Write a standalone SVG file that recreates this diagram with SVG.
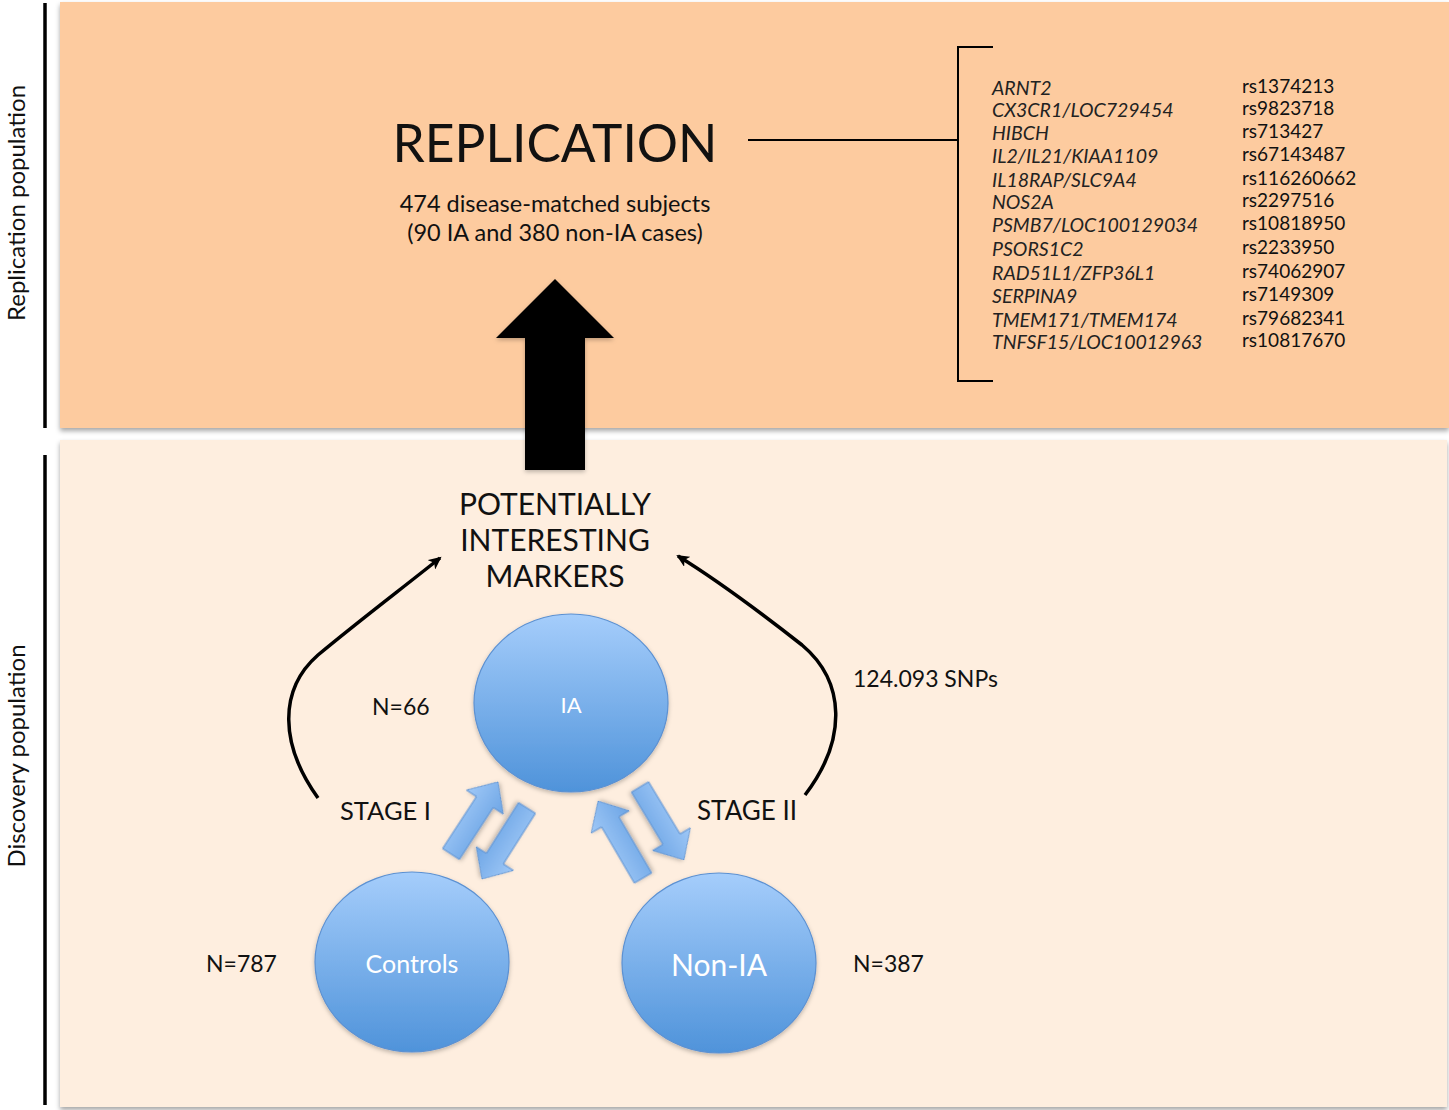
<svg xmlns="http://www.w3.org/2000/svg" width="1449" height="1110" viewBox="0 0 1449 1110">
<defs>
<style>
text{font-family:Lato,"Noto Sans","Liberation Sans",sans-serif;fill:#111}
.side{font-size:24px;text-anchor:middle}
.gene{font-size:19.5px;font-style:italic;fill:#222}
.rs{font-size:19px;fill:#111}
.lbl{font-size:23px}
.cl{fill:#fff;text-anchor:middle}
.circ{fill:url(#cg);stroke:#5C91D2;stroke-width:1.2;filter:url(#sh)}
.barr{fill:url(#ag);stroke:#5C91D2;stroke-width:1;filter:url(#sh)}
.curve{fill:none;stroke:#000;stroke-width:3.5;marker-end:url(#ah)}
</style>
<linearGradient id="cg" x1="0" y1="0" x2="0" y2="1">
<stop offset="0" stop-color="#A5CDFB"/>
<stop offset="1" stop-color="#4F93DA"/>
</linearGradient>
<linearGradient id="ag" x1="0" y1="0" x2="0" y2="1">
<stop offset="0" stop-color="#9FC8F7"/>
<stop offset="1" stop-color="#6DA5E5"/>
</linearGradient>
<filter id="sh" x="-20%" y="-20%" width="140%" height="140%">
<feDropShadow dx="0" dy="2" stdDeviation="2" flood-color="#000" flood-opacity="0.25"/>
</filter>
<filter id="psh" x="-5%" y="-5%" width="110%" height="110%">
<feDropShadow dx="0" dy="3" stdDeviation="2.5" flood-color="#000" flood-opacity="0.35"/>
</filter>
<marker id="ah" markerWidth="14" markerHeight="12" refX="11" refY="6" orient="auto" markerUnits="userSpaceOnUse">
<path d="M0,0 L13,6 L0,12 L3.5,6 Z" fill="#000"/>
</marker>
</defs>

<g id="panels">
<rect x="60" y="440" width="1387" height="667" fill="#FEEEDF" filter="url(#psh)"/>
<rect x="60" y="2" width="1389" height="426" fill="#FDCB9F" filter="url(#psh)"/>
</g>

<g id="side-labels">
<line x1="45" y1="3" x2="45" y2="428" stroke="#000" stroke-width="3.5"/>
<line x1="45" y1="455" x2="45" y2="1105" stroke="#000" stroke-width="3.5"/>
<text class="side" transform="translate(25,203) rotate(-90)">Replication population</text>
<text class="side" transform="translate(25,756) rotate(-90)">Discovery population</text>
</g>

<g id="replication">
<text x="555" y="162" font-size="51.5" text-anchor="middle">REPLICATION</text>
<text x="555" y="212" font-size="23.5" text-anchor="middle">474 disease-matched subjects</text>
<text x="555" y="241" font-size="23.5" text-anchor="middle">(90 IA and 380 non-IA cases)</text>
</g>

<g id="big-arrow">
<polygon points="555,279 614,338 585,338 585,470 525,470 525,338 496,338" fill="#000" filter="url(#sh)"/>
</g>

<g id="gene-list">
<path d="M993,47 L958,47 L958,381 L993,381" fill="none" stroke="#000" stroke-width="2"/>
<g class="genes">
<text class="gene" x="992" y="95">ARNT2</text>
<text class="gene" x="992" y="117">CX3CR1/LOC729454</text>
<text class="gene" x="992" y="140">HIBCH</text>
<text class="gene" x="992" y="163">IL2/IL21/KIAA1109</text>
<text class="gene" x="992" y="187">IL18RAP/SLC9A4</text>
<text class="gene" x="992" y="209">NOS2A</text>
<text class="gene" x="992" y="232">PSMB7/LOC100129034</text>
<text class="gene" x="992" y="256">PSORS1C2</text>
<text class="gene" x="992" y="280">RAD51L1/ZFP36L1</text>
<text class="gene" x="992" y="303">SERPINA9</text>
<text class="gene" x="992" y="327">TMEM171/TMEM174</text>
<text class="gene" x="992" y="349">TNFSF15/LOC10012963</text>
</g>
<g class="snps">
<text class="rs" x="1242" y="93">rs1374213</text>
<text class="rs" x="1242" y="115">rs9823718</text>
<text class="rs" x="1242" y="138">rs713427</text>
<text class="rs" x="1242" y="161">rs67143487</text>
<text class="rs" x="1242" y="185">rs116260662</text>
<text class="rs" x="1242" y="207">rs2297516</text>
<text class="rs" x="1242" y="230">rs10818950</text>
<text class="rs" x="1242" y="254">rs2233950</text>
<text class="rs" x="1242" y="278">rs74062907</text>
<text class="rs" x="1242" y="301">rs7149309</text>
<text class="rs" x="1242" y="325">rs79682341</text>
<text class="rs" x="1242" y="347">rs10817670</text>
</g>
</g>

<g id="markers">
<text x="555" y="515" font-size="30" text-anchor="middle">POTENTIALLY</text>
<text x="555" y="551" font-size="30" text-anchor="middle">INTERESTING</text>
<text x="555" y="587" font-size="30" text-anchor="middle">MARKERS</text>
</g>

<g id="connectors">
<line x1="748" y1="140" x2="958" y2="140" stroke="#000" stroke-width="2"/>
<path class="curve" d="M318,798 C280,745 278,690 318,655 C360,620 400,590 440,558"/>
<path class="curve" d="M805,795 C847,740 846,682 802,645 C760,612 720,582 678,556"/>
<g class="block-arrows">
<polygon class="barr" transform="translate(451,854) rotate(-56.9)" points="0,-10 62,-10 62,-22 86,0 62,22 62,10 0,10"/>
<polygon class="barr" transform="translate(527,808) rotate(122.4)" points="0,-10 60,-10 60,-22 84,0 60,22 60,10 0,10"/>
<polygon class="barr" transform="translate(643,878) rotate(-120.3)" points="0,-10 65,-10 65,-22 89,0 65,22 65,10 0,10"/>
<polygon class="barr" transform="translate(640,787) rotate(58.9)" points="0,-10 61,-10 61,-22 85,0 61,22 61,10 0,10"/>
</g>
</g>

<g id="node-ia">
<ellipse class="circ" cx="571" cy="703" rx="97" ry="89"/>
<text class="cl" x="571" y="713" font-size="22">IA</text>
</g>
<g id="node-controls">
<ellipse class="circ" cx="412" cy="962" rx="97" ry="90"/>
<text class="cl" x="412" y="973" font-size="25">Controls</text>
</g>
<g id="node-nonia">
<ellipse class="circ" cx="719" cy="963" rx="97" ry="90"/>
<text class="cl" x="719" y="976" font-size="30">Non-IA</text>
</g>

<g id="labels">
<text class="lbl" x="372" y="715">N=66</text>
<text class="lbl" x="853" y="687">124.093 SNPs</text>
<text x="340" y="820" font-size="25.5">STAGE I</text>
<text x="697" y="820" font-size="26">STAGE II</text>
<text class="lbl" x="206" y="972">N=787</text>
<text class="lbl" x="853" y="972">N=387</text>
</g>
</svg>
